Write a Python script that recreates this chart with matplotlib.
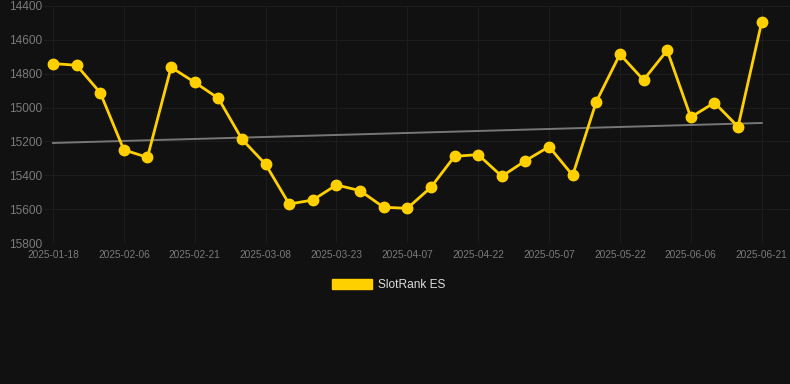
import matplotlib
matplotlib.use("Agg")
import matplotlib.pyplot as plt
from matplotlib.patches import Patch

# data
dates = ["2025-01-18", "2025-02-06", "2025-02-21", "2025-03-08", "2025-03-23",
         "2025-04-07", "2025-04-22", "2025-05-07", "2025-05-22", "2025-06-06",
         "2025-06-21"]
ranks = [14740, 14750, 14912, 15250, 15294, 14762, 14851, 14945, 15187, 15335,
         15570, 15546, 15457, 15491, 15589, 15595, 15471, 15288, 15278, 15406,
         15314, 15231, 15400, 14965, 14685, 14837, 14662, 15057, 14971, 15113,
         14496]
trend_ends = [15209, 15091]
yticks = [14400, 14600, 14800, 15000, 15200, 15400, 15600, 15800]

BG = "#111111"
GOLD = "#ffd000"

plt.rcParams["font.family"] = ["Liberation Sans", "DejaVu Sans"]

fig = plt.figure(figsize=(7.9, 3.84), dpi=100, facecolor=BG)
ax = fig.add_axes([44 / 790, 1 - 243 / 384, 1 - 44 / 790, 237 / 384])
ax.set_facecolor(BG)

x = list(range(len(ranks)))
ax.plot([0, len(ranks) - 1], trend_ends, color="#777777", lw=1.4, zorder=2)
ax.plot(x, ranks, color=GOLD, lw=2.0, marker="o", ms=7.5, zorder=3)

ax.set_xlim(-0.38, 31.2)
ax.set_ylim(15800, 14400)
ax.set_yticks(yticks)
ax.set_xticks(x[::3])
ax.set_xticklabels(dates)

ax.grid(True, color="#1d1d1d", lw=0.8)
ax.set_axisbelow(True)
for s in ax.spines.values():
    s.set_visible(False)
ax.tick_params(axis="both", length=0, colors="#7a7a7a")
ax.tick_params(axis="y", pad=1.5, labelsize=8.6)
ax.tick_params(axis="x", pad=5, labelsize=7.3)

handle = Patch(facecolor=GOLD, edgecolor=GOLD)
fig.legend([handle], ["SlotRank ES"], loc="center", bbox_to_anchor=(0.492, 0.258),
           frameon=False, fontsize=8.6, labelcolor="#dddddd",
           handlelength=3.3, handleheight=1.0, handletextpad=0.5)

fig.savefig("out.png", dpi=100, facecolor=BG)
